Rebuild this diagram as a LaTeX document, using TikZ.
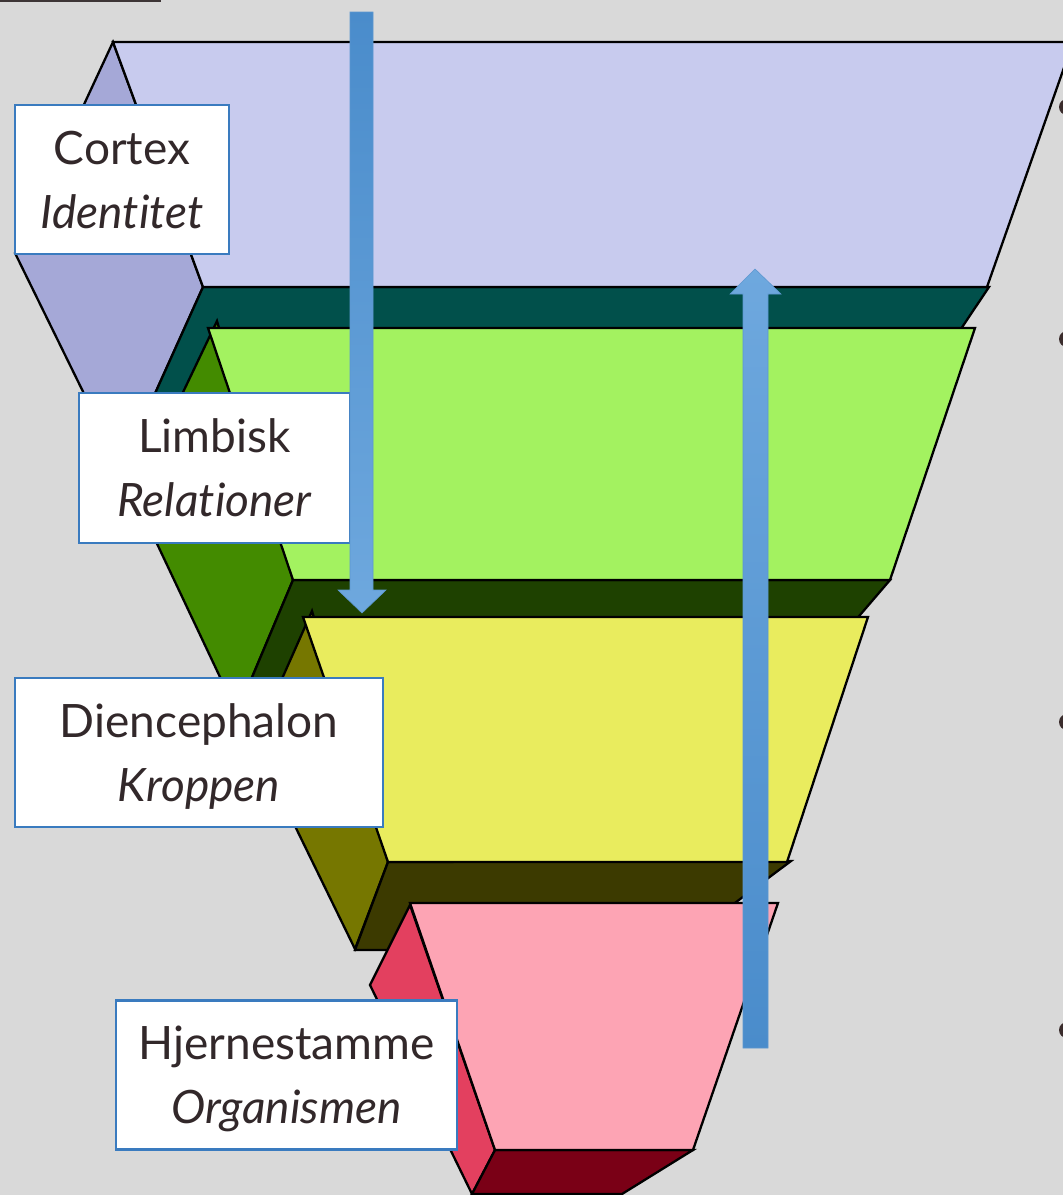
\documentclass[tikz,border=0pt]{standalone}
\usepackage{fontspec}
\setmainfont{Lato}[Ligatures=NoCommon]
\definecolor{bg}{HTML}{D9D9D9}
\definecolor{lavF}{HTML}{C8CBEE}
\definecolor{lavS}{HTML}{A5A8D7}
\definecolor{tealB}{HTML}{01504B}
\definecolor{grnF}{HTML}{A3F260}
\definecolor{grnS}{HTML}{438B00}
\definecolor{grnB}{HTML}{1E4100}
\definecolor{yelF}{HTML}{E9EC5E}
\definecolor{yelS}{HTML}{767700}
\definecolor{yelB}{HTML}{3C3A00}
\definecolor{pnkF}{HTML}{FDA4B4}
\definecolor{pnkS}{HTML}{E3405F}
\definecolor{pnkB}{HTML}{7A0016}
\definecolor{boxblue}{HTML}{3A7BBF}
\definecolor{txt}{HTML}{32282A}
\definecolor{arrD}{HTML}{4A8CCB}
\definecolor{arrL}{HTML}{6EA8DE}
\definecolor{dotc}{HTML}{3A2C2C}
\definecolor{topline}{HTML}{3D3536}
\begin{document}
\begin{tikzpicture}[x=1pt,y=-1pt,
  edge/.style={draw=black,line width=2.3pt,line join=miter},
  lbl/.style={draw=boxblue,line width=2.2pt,fill=white,inner sep=0pt,rectangle},
  ttl/.style={anchor=base,text=txt,inner sep=0pt,font=\fontsize{46}{56}\selectfont},
  itl/.style={ttl,font=\fontsize{46}{56}\selectfont\itshape},
  arrowbody/.style={draw=arrD!90!white,line width=0.6pt}]
\useasboundingbox (0,0) rectangle (1063,1195);
\begin{scope}
\clip (0,0) rectangle (1063,1195);
\fill[bg] (0,0) rectangle (1063,1195);
\fill[topline] (0,0) rectangle (161,1.8);
% bullets at right edge
\fill[dotc] (1067,107) circle[radius=8pt];
\fill[dotc] (1067,339) circle[radius=8pt];
\fill[dotc] (1067,722) circle[radius=8pt];
\fill[dotc] (1067,1030) circle[radius=8pt];
% layer 1: Cortex
\path[edge,fill=lavS] (113,42) -- (15,253) -- (121,469) -- (203,287) -- cycle;
\path[edge,fill=tealB] (203,287) -- (989,287) -- (920,390) -- (121,469) -- cycle;
\path[edge,fill=lavF] (113,42) -- (1073,42) -- (987,287) -- (203,287) -- cycle;
% layer 2: Limbisk
\path[edge,fill=grnS] (217,321) -- (134,495) -- (237,713) -- (293,580) -- cycle;
\path[edge,fill=grnB] (293,580) -- (890,580) -- (830,650) -- (237,713) -- cycle;
\path[edge,fill=grnF] (208,328) -- (975,328) -- (890,580) -- (293,580) -- cycle;
% layer 3: Diencephalon
\path[edge,fill=yelS] (312,611) -- (254,742) -- (355,949) -- (388,862) -- cycle;
\path[edge,fill=yelB] (388,862) -- (791,861) -- (672,950) -- (355,950) -- cycle;
\path[edge,fill=yelF] (303,617) -- (868,617) -- (787,862) -- (388,862) -- cycle;
% layer 4: Hjernestamme
\path[edge,fill=pnkS] (410,905) -- (370,985) -- (472,1194) -- (495,1150) -- cycle;
\path[edge,fill=pnkB] (495,1150) -- (693,1150) -- (622,1194) -- (472,1194) -- cycle;
\path[edge,fill=pnkF] (410,903) -- (778,903) -- (693,1150) -- (495,1150) -- cycle;
% label boxes
\node[lbl,minimum width=214pt,minimum height=149pt] (cortex) at (122,179.5) {};
\node[ttl] (cortexA) at (122,164) {Cortex};
\node[itl] (cortexB) at (122,228) {Identitet};
\node[lbl,minimum width=271pt,minimum height=150pt] (limbisk) at (214.5,468) {};
\node[ttl] (limbiskA) at (214.5,452.5) {Limbisk};
\node[itl] (limbiskB) at (214.5,516.5) {Relationer};
\node[lbl,minimum width=368pt,minimum height=149pt] (dienc) at (199,752.5) {};
\node[ttl] (diencA) at (199,737) {Diencephalon};
\node[itl] (diencB) at (199,801) {Kroppen};
\node[lbl,minimum width=341pt,minimum height=149pt] (hjerne) at (286.5,1075) {};
\node[ttl] (hjerneA) at (286.5,1059.5) {Hjernestamme};
\node[itl] (hjerneB) at (286.5,1123.5) {Organismen};
% arrows
\shade[arrowbody,top color=arrD,bottom color=arrL]
  (350,12) -- (373,12) -- (373,590) -- (386,590) -- (362,613) -- (338,590) -- (350,590) -- cycle;
\shade[arrowbody,top color=arrL,bottom color=arrD]
  (755,269) -- (781,294) -- (768,294) -- (768,1048) -- (743,1048) -- (743,294) -- (730,294) -- cycle;
\end{scope}
\end{tikzpicture}
\end{document}
